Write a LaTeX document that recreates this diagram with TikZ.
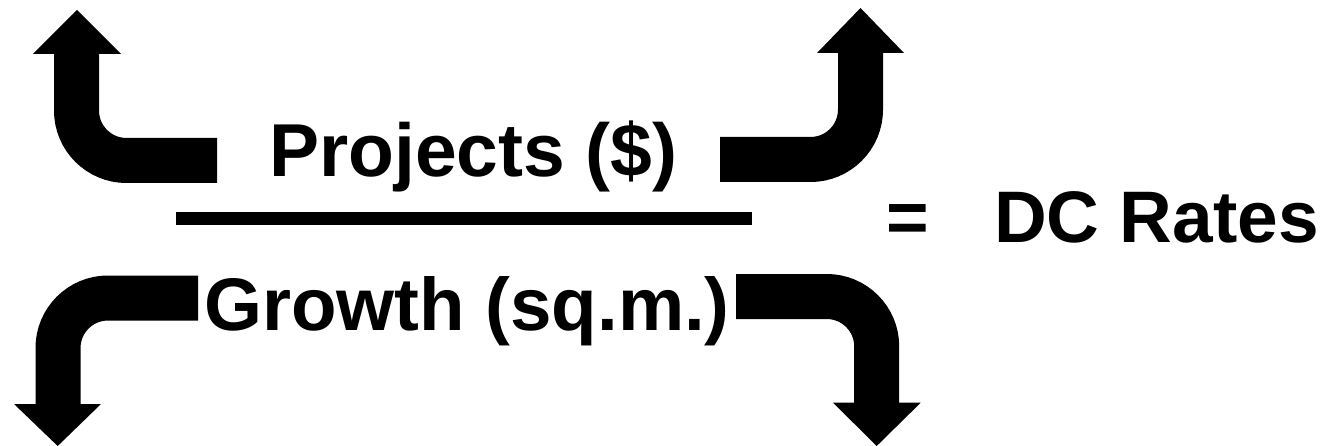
\documentclass[tikz,border=0pt]{standalone}
\usepackage{fontspec}
\setmainfont{Liberation Sans}
\begin{document}
\begin{tikzpicture}[x=1pt,y=-1pt,
  bentarrow/.style={line width=45pt,rounded corners=50pt,black},
  arrowhead/.style={fill=black},
  lbl/.style={inner sep=0pt,anchor=base west,font=\bfseries}]
\useasboundingbox (0,0) rectangle (1335,446);
% top-left arrow
\draw[bentarrow] (217,160.5) -- (76.5,160.5) -- (76.5,53);
\fill[arrowhead] (33,54) -- (121,54) -- (77,10) -- cycle;
% top-right arrow
\draw[bentarrow] (720,159.5) -- (860.5,159.5) -- (860.5,52);
\fill[arrowhead] (817,53) -- (904,53) -- (860.5,8) -- cycle;
% bottom-left arrow
\draw[bentarrow] (198,298) -- (58,298) -- (58,405);
\fill[arrowhead] (14,404) -- (101,404) -- (57.7,446) -- cycle;
% bottom-right arrow
\draw[bentarrow] (736,296.5) -- (876.7,296.5) -- (876.7,404);
\fill[arrowhead] (833,402.7) -- (920.7,402.7) -- (876.7,446) -- cycle;
% fraction bar
\coordinate (fl) at (176,218.5);
\coordinate (fr) at (752,218.5);
\draw[line width=13pt] (fl) -- (fr);
% texts
\node[lbl] (num) at (269,177) {\fontsize{75}{80}\selectfont Projects (\$)};
\node[lbl] (den) at (204,330) {\fontsize{74.5}{80}\selectfont Growth (sq.m.)};
\node[lbl] (eq) at (886,243) {\fontsize{73}{80}\selectfont =};
\node[lbl] (res) at (994,243) {\fontsize{73}{80}\selectfont DC Rates};
\end{tikzpicture}
\end{document}
